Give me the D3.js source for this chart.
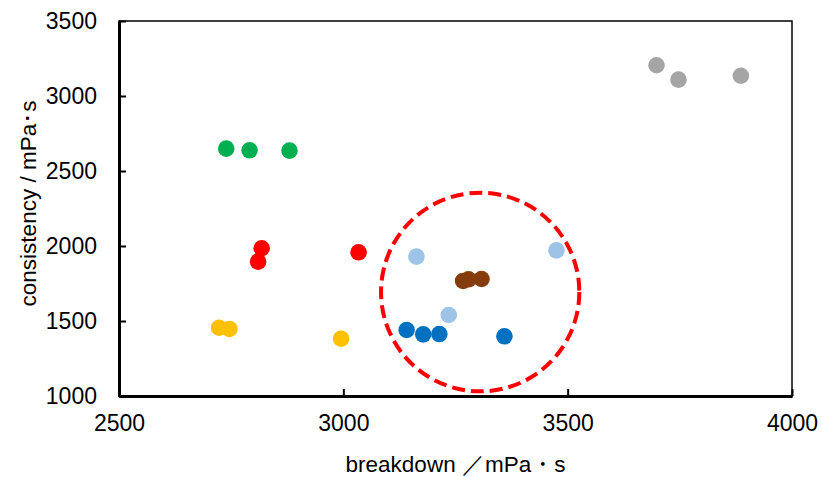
<!DOCTYPE html>
<html>
<head>
<meta charset="utf-8">
<script src="https://cdn.jsdelivr.net/npm/d3@7"></script>
<style>
  html, body { margin: 0; padding: 0; background: #fff; }
  text { font-family: "Liberation Sans", Arial, sans-serif; fill: #000; }
</style>
</head>
<body>
<svg id="chart" width="822" height="477"></svg>
<script>
// ---- data ----
const xTicks = [2500, 3000, 3500, 4000];
const yTicks = [1000, 1500, 2000, 2500, 3000, 3500];
const xLabel = "breakdown ／mPa・s";
const yLabel = "consistency / mPa･s";

const greenX = [2739, 2791, 2880];
const greenY = [2649, 2638, 2636];
const grayX = [3698, 3747, 3886];
const grayY = [3205, 3109, 3135];
const redX = [2818, 2810, 3034];
const redY = [1985, 1896, 1958];
const orangeX = [2723, 2746, 2995];
const orangeY = [1455, 1447, 1382];
const lightBlueX = [3163, 3235, 3475];
const lightBlueY = [1929, 1540, 1971];
const brownX = [3267, 3279, 3308];
const brownY = [1767, 1778, 1780];
const blueX = [3141, 3178, 3214, 3359];
const blueY = [1440, 1411, 1413, 1398];

// highlighted region (data units): centre and half-widths
const highlight = { cx: 3305, cy: 1693, rx: 221, ry: 662 };

const seriesList = [
  { x: greenX, y: greenY, color: "#00B050" },
  { x: grayX, y: grayY, color: "#A5A5A5" },
  { x: redX, y: redY, color: "#FF0000" },
  { x: orangeX, y: orangeY, color: "#FFC000" },
  { x: lightBlueX, y: lightBlueY, color: "#9DC3E6" },
  { x: brownX, y: brownY, color: "#843C0C" },
  { x: blueX, y: blueY, color: "#0070C0" }
];

// ---- layout ----
const margin = { left: 119, top: 21, right: 822 - 792, bottom: 477 - 396 };
const W = 822 - margin.left - margin.right;
const H = 477 - margin.top - margin.bottom;

const svg = d3.select("#chart");
const g = svg.append("g").attr("transform", `translate(${margin.left},${margin.top})`);

const x = d3.scaleLinear().domain([2500, 4000]).range([0, W]);
const y = d3.scaleLinear().domain([1000, 3500]).range([H, 0]);

// frame
g.append("rect").attr("x", 0).attr("y", 0).attr("width", W).attr("height", H)
  .attr("fill", "none").attr("stroke", "#000").attr("stroke-width", 1.5);

// axes (ticks pointing inward)
const xAxis = g.append("g").attr("transform", `translate(0,${H})`)
  .call(d3.axisBottom(x).tickValues(xTicks).tickSizeInner(-7).tickSizeOuter(0).tickPadding(19).tickFormat(d3.format("d")));
const yAxis = g.append("g")
  .call(d3.axisLeft(y).tickValues(yTicks).tickSizeInner(-7).tickSizeOuter(0).tickPadding(22).tickFormat(d3.format("d")));

[xAxis, yAxis].forEach(a => {
  a.select(".domain").attr("stroke", "#000").attr("stroke-width", 3);
  a.selectAll(".tick line").attr("stroke", "#000").attr("stroke-width", 2);
  a.selectAll(".tick text").style("font-size", "23px").style("font-family", '"Liberation Sans", Arial, sans-serif').attr("fill", "#000");
});

// points
seriesList.forEach(s => {
  const pts = s.x.map((v, i) => ({ x: v, y: s.y[i] }));
  g.append("g").selectAll("circle").data(pts).join("circle")
    .attr("cx", d => x(d.x)).attr("cy", d => y(d.y)).attr("r", 8.3)
    .attr("fill", s.color);
});

// dashed highlight ellipse
g.append("ellipse")
  .attr("cx", x(highlight.cx)).attr("cy", y(highlight.cy))
  .attr("rx", x(highlight.cx + highlight.rx) - x(highlight.cx))
  .attr("ry", y(highlight.cy - highlight.ry) - y(highlight.cy))
  .attr("fill", "none").attr("stroke", "#FF0000").attr("stroke-width", 4)
  .attr("stroke-dasharray", "13,6");

// axis titles
svg.append("text")
  .attr("x", margin.left + W / 2).attr("y", 472)
  .attr("text-anchor", "middle").style("font-size", "22.5px")
  .text(xLabel);

svg.append("text")
  .attr("transform", `translate(36,${margin.top + H / 2 - 5}) rotate(-90)`)
  .attr("text-anchor", "middle").style("font-size", "22.5px")
  .text(yLabel);
</script>
</body>
</html>
